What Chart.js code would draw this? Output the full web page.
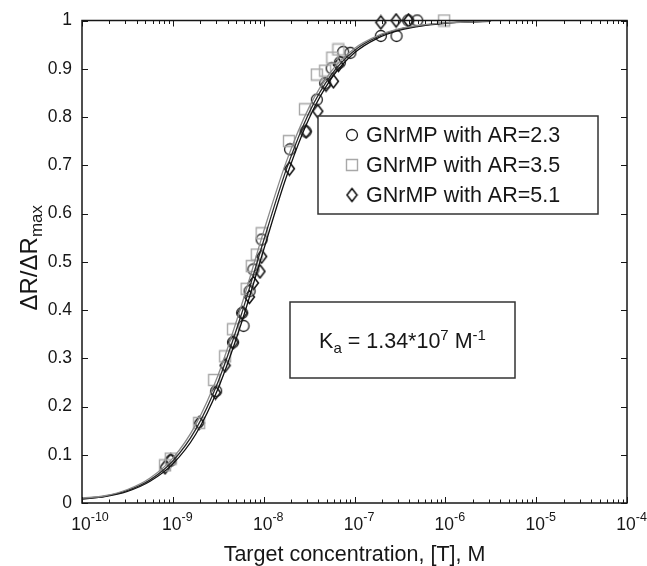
<!DOCTYPE html>
<html>
<head>
<meta charset="utf-8">
<script src="https://cdn.jsdelivr.net/npm/chart.js@4/dist/chart.umd.min.js"></script>
<style>
  html, body { margin: 0; padding: 0; background: #fff; }
  #wrap { width: 647px; height: 566px; }
</style>
</head>
<body>
<div id="wrap"><canvas id="c"></canvas></div>
<script>
// axis ticks
const xTicks = [1e-10, 1e-9, 1e-8, 1e-7, 1e-6, 1e-5, 1e-4];
const xTickExp = ['-10', '-9', '-8', '-7', '-6', '-5', '-4'];
const yTicks = [0, 0.1, 0.2, 0.3, 0.4, 0.5, 0.6, 0.7, 0.8, 0.9, 1];
const yTickLabels = ['0', '0.1', '0.2', '0.3', '0.4', '0.5', '0.6', '0.7', '0.8', '0.9', '1'];

const conc23 = [9.5e-10, 3.0e-9, 4.6e-9, 6.0e-9, 5.8e-9, 7.0e-9, 7.7e-9, 9.5e-9, 1.95e-8, 2.9e-8,
                3.85e-8, 4.75e-8, 5.6e-8, 6.9e-8, 7.5e-8, 9.0e-8, 1.95e-7, 2.9e-7, 3.9e-7, 4.9e-7];
const resp23 = [0.088, 0.232, 0.333, 0.367, 0.394, 0.439, 0.484, 0.546, 0.733, 0.770,
                0.836, 0.870, 0.901, 0.913, 0.935, 0.933, 0.968, 0.968, 1.0, 1.0];

const conc35 = [8.2e-10, 9.5e-10, 1.95e-9, 2.85e-9, 3.76e-9, 4.6e-9, 6.5e-9, 7.4e-9, 8.4e-9, 9.5e-9,
                1.9e-8, 2.85e-8, 3.85e-8, 4.75e-8, 5.7e-8, 6.65e-8, 9.7e-7];
const resp35 = [0.078, 0.092, 0.166, 0.255, 0.304, 0.360, 0.444, 0.491, 0.515, 0.559,
                0.750, 0.816, 0.888, 0.896, 0.923, 0.940, 1.0];

const conc51 = [8.2e-10, 9.5e-10, 1.95e-9, 2.95e-9, 3.76e-9, 4.6e-9, 5.8e-9, 6.95e-9, 7.7e-9, 9.1e-9,
                9.5e-9, 1.92e-8, 2.93e-8, 3.94e-8, 4.86e-8, 5.86e-8, 6.65e-8, 1.95e-7, 2.87e-7, 3.93e-7];
const resp51 = [0.074, 0.089, 0.166, 0.229, 0.285, 0.333, 0.394, 0.427, 0.456, 0.480,
                0.511, 0.693, 0.770, 0.812, 0.867, 0.874, 0.908, 0.996, 1.0, 1.0];

// fitted curves
const fitConc = [1e-10, 1.78e-10, 3.16e-10, 5.62e-10, 1e-9, 1.78e-9, 3.16e-9, 5.62e-9, 1e-8, 1.78e-8,
                 3.16e-8, 5.62e-8, 1e-7, 1.78e-7, 3.16e-7, 5.62e-7, 1e-6, 1.78e-6, 3.16e-6];
const fit23 = [0.009, 0.014, 0.026, 0.048, 0.087, 0.152, 0.252, 0.388, 0.544, 0.692,
               0.809, 0.889, 0.938, 0.966, 0.982, 0.990, 0.995, 0.997, 0.999];
const fit35 = [0.010, 0.015, 0.028, 0.052, 0.093, 0.162, 0.266, 0.406, 0.563, 0.708,
               0.820, 0.896, 0.942, 0.968, 0.983, 0.991, 0.995, 0.997, 0.999];
const fit51 = [0.008, 0.013, 0.024, 0.045, 0.081, 0.142, 0.238, 0.370, 0.525, 0.676,
               0.797, 0.881, 0.933, 0.963, 0.980, 0.989, 0.994, 0.997, 0.998];

const seriesNames = ['GNrMP with AR=2.3', 'GNrMP with AR=3.5', 'GNrMP with AR=5.1'];

const ink = '#161616';
const FONT = '"Liberation Sans", Arial, Helvetica, sans-serif';

function marker(kind, w, h, color, lw) {
  const c = document.createElement('canvas');
  c.width = w + 3; c.height = h + 3;
  const g = c.getContext('2d');
  const cx = c.width / 2, cy = c.height / 2;
  g.strokeStyle = color;
  g.lineWidth = lw;
  g.beginPath();
  if (kind === 'circle') {
    g.arc(cx, cy, w / 2, 0, Math.PI * 2);
  } else if (kind === 'square') {
    g.rect(cx - w / 2, cy - h / 2, w, h);
  } else {
    g.moveTo(cx, cy - h / 2);
    g.lineTo(cx + w / 2, cy);
    g.lineTo(cx, cy + h / 2);
    g.lineTo(cx - w / 2, cy);
    g.closePath();
  }
  g.stroke();
  return c;
}

const mCircle = marker('circle', 11, 11, '#1e1e1e', 1.3);
const mSquare = marker('square', 11, 11, '#a8a8a8', 1.4);
const mDiamond = marker('diamond', 10, 13, '#0c0c0c', 1.5);
const markers = [mCircle, mSquare, mDiamond];

const pts = (xs, ys) => xs.map((v, i) => ({x: v, y: ys[i]}));

function fitSet(ys, color) {
  return {
    data: pts(fitConc, ys),
    showLine: true,
    borderColor: color,
    borderWidth: 1.3,
    pointRadius: 0,
    cubicInterpolationMode: 'monotone',
    fill: false
  };
}

function pointSet(xs, ys, m) {
  return {
    data: pts(xs, ys),
    showLine: false,
    pointStyle: m,
    pointRadius: 6,
    clip: false
  };
}

function drawSup(ctx, parts, x, y, align) {
  // parts: [text, size, dy]
  let total = 0;
  parts.forEach(p => { ctx.font = p[1] + 'px ' + FONT; total += ctx.measureText(p[0]).width; });
  let cx = align === 'center' ? x - total / 2 : x;
  ctx.textAlign = 'left';
  parts.forEach(p => {
    ctx.font = p[1] + 'px ' + FONT;
    ctx.fillText(p[0], cx, y + p[2]);
    cx += ctx.measureText(p[0]).width;
  });
}

const frame = {
  id: 'frame',
  afterDraw(chart) {
    const {ctx, chartArea: a, scales: {x, y}} = chart;
    ctx.save();

    // inward ticks on all four sides
    ctx.strokeStyle = ink;
    ctx.lineWidth = 1;
    ctx.beginPath();
    xTicks.forEach((v, i) => {
      const px = Math.round(x.getPixelForValue(v)) + 0.5;
      ctx.moveTo(px, a.bottom); ctx.lineTo(px, a.bottom - 6);
      ctx.moveTo(px, a.top); ctx.lineTo(px, a.top + 6);
      if (i < xTicks.length - 1) {
        for (let k = 2; k < 10; k++) {
          const mp = Math.round(x.getPixelForValue(v * k)) + 0.5;
          ctx.moveTo(mp, a.bottom); ctx.lineTo(mp, a.bottom - 3.5);
          ctx.moveTo(mp, a.top); ctx.lineTo(mp, a.top + 3.5);
        }
      }
    });
    yTicks.forEach(v => {
      const py = Math.round(y.getPixelForValue(v)) + 0.5;
      ctx.moveTo(a.left, py); ctx.lineTo(a.left + 6, py);
      ctx.moveTo(a.right, py); ctx.lineTo(a.right - 6, py);
    });
    ctx.stroke();

    ctx.lineWidth = 1.5;
    ctx.strokeRect(a.left, a.top, a.right - a.left, a.bottom - a.top);

    // x tick labels with exponents
    ctx.fillStyle = ink;
    ctx.textBaseline = 'alphabetic';
    xTicks.forEach((v, i) => {
      const px = x.getPixelForValue(v);
      ctx.font = '17.5px ' + FONT;
      const bw = ctx.measureText('10').width;
      drawSup(ctx, [['10', 17.5, 0], [xTickExp[i], 12.5, -9]], px - bw / 2 - 1, 530, 'left');
    });

    // x title
    ctx.font = '21.5px ' + FONT;
    ctx.textAlign = 'center';
    ctx.fillText('Target concentration, [T], M', (a.left + a.right) / 2, 561);

    // y title
    ctx.save();
    ctx.translate(37, (a.top + a.bottom) / 2 - 4);
    ctx.rotate(-Math.PI / 2);
    drawSup(ctx, [['\u0394R/\u0394R', 24, 0], ['max', 17, 5]], 0, 0, 'center');
    ctx.restore();

    // legend
    const lg = {l: 318, t: 116, r: 598, b: 214};
    ctx.fillStyle = '#fff';
    ctx.fillRect(lg.l, lg.t, lg.r - lg.l, lg.b - lg.t);
    ctx.strokeStyle = '#333';
    ctx.lineWidth = 1.5;
    ctx.strokeRect(lg.l, lg.t, lg.r - lg.l, lg.b - lg.t);
    ctx.fillStyle = ink;
    ctx.font = '21.5px ' + FONT;
    ctx.textAlign = 'left';
    seriesNames.forEach((name, i) => {
      const base = 142 + i * 30;
      const m = markers[i];
      ctx.drawImage(m, 352 - m.width / 2, base - 7 - m.height / 2);
      ctx.fillText(name, 366, base);
    });

    // binding constant box
    const kb = {l: 290, t: 302, r: 515, b: 378};
    ctx.fillStyle = '#fff';
    ctx.fillRect(kb.l, kb.t, kb.r - kb.l, kb.b - kb.t);
    ctx.strokeStyle = '#333';
    ctx.strokeRect(kb.l, kb.t, kb.r - kb.l, kb.b - kb.t);
    ctx.fillStyle = ink;
    drawSup(ctx, [['K', 21.5, 0], ['a', 15, 5], [' = 1.34*10', 21.5, 0], ['7', 15, -8],
                  [' M', 21.5, 0], ['-1', 15, -8]], (kb.l + kb.r) / 2, 348, 'center');

    ctx.restore();
  }
};

new Chart(document.getElementById('c'), {
  type: 'scatter',
  data: {
    datasets: [
      fitSet(fit35, '#8a8a8a'),
      fitSet(fit23, '#2a2a2a'),
      fitSet(fit51, '#111'),
      pointSet(conc35, resp35, mSquare),
      pointSet(conc23, resp23, mCircle),
      pointSet(conc51, resp51, mDiamond)
    ]
  },
  options: {
    responsive: true,
    maintainAspectRatio: false,
    animation: false,
    events: [],
    layout: {padding: {top: 18, right: 20, left: 0, bottom: 0}},
    plugins: {legend: {display: false}, tooltip: {enabled: false}},
    scales: {
      x: {
        type: 'logarithmic',
        min: 1e-10,
        max: 1e-4,
        grid: {display: false, drawTicks: false},
        border: {display: false},
        ticks: {display: false},
        afterFit: s => { s.height = 63; }
      },
      y: {
        min: 0,
        max: 1,
        grid: {display: false, drawTicks: false},
        border: {display: false},
        afterBuildTicks: s => { s.ticks = yTicks.map(v => ({value: v})); },
        ticks: {
          color: ink,
          padding: 10,
          font: {family: FONT, size: 17.5},
          callback: (v, i) => yTickLabels[i]
        },
        afterFit: s => { s.width = 82; }
      }
    }
  },
  plugins: [frame]
});
</script>
</body>
</html>
